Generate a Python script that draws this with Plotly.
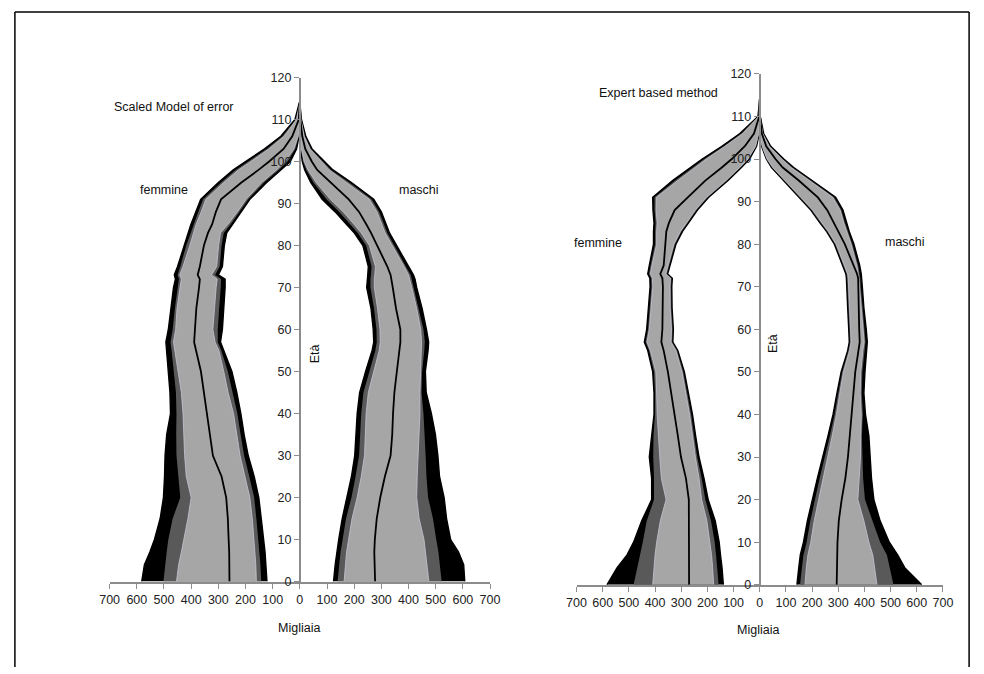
import plotly.graph_objects as go

# Age grid (years) shared by every quantile curve
AGE = [0, 4, 7, 10, 15, 20, 25, 30, 35, 40, 45, 50, 55, 57, 60, 65, 70, 72, 73, 75,
       80, 83, 85, 88, 91, 95, 98, 100, 103, 106, 110, 114]

# --- Scaled Model of error: femmine (thousands) ---
SME_F_HI3 = [582, 572, 552, 535, 514, 502, 498, 496, 490, 476, 478, 484, 490, 493, 484, 475, 465, 458, 462, 450,
             427, 411, 401, 383, 365, 300, 245, 200, 130, 70, 18, 2]
SME_F_HI2 = [502, 496, 490, 484, 468, 440, 448, 454, 455, 454, 456, 463, 472, 476, 468, 460, 450, 445, 450, 440,
             418, 402, 392, 374, 356, 290, 236, 190, 122, 64, 15, 1]
SME_F_HI1 = [454, 446, 436, 427, 412, 400, 418, 424, 427, 430, 436, 448, 460, 465, 457, 452, 441, 436, 442, 430,
             405, 392, 382, 363, 346, 280, 226, 180, 114, 58, 12, 0]
SME_F_MED = [259, 259, 260, 262, 265, 271, 288, 320, 331, 340, 352, 364, 382, 389, 386, 381, 371, 368, 376, 368,
             353, 338, 323, 309, 290, 215, 152, 113, 60, 28, 4, 0]
SME_F_LO1 = [160, 162, 165, 168, 175, 184, 202, 220, 232, 244, 264, 280, 298, 312, 320, 314, 308, 304, 325, 306,
             299, 292, 265, 230, 198, 140, 86, 54, 22, 6, 0, 0]
SME_F_LO2 = [142, 145, 148, 152, 160, 168, 186, 205, 218, 230, 248, 265, 289, 302, 302, 297, 291, 290, 312, 295,
             288, 280, 255, 222, 190, 132, 78, 45, 17, 4, 0, 0]
SME_F_LO3 = [121, 125, 128, 132, 142, 151, 168, 190, 205, 217, 232, 250, 280, 292, 285, 281, 275, 275, 300, 285,
             278, 269, 246, 216, 184, 122, 70, 35, 12, 3, 0, 0]

# --- Scaled Model of error: maschi ---
SME_M_HI3 = [607, 603, 584, 555, 540, 531, 514, 508, 499, 484, 465, 462, 472, 474, 466, 450, 430, 424, 418, 400,
             356, 330, 318, 300, 272, 190, 122, 92, 45, 22, 6, 0]
SME_M_HI2 = [522, 516, 510, 502, 490, 472, 466, 463, 460, 455, 448, 450, 458, 460, 455, 438, 420, 413, 408, 390,
             348, 322, 310, 292, 264, 182, 115, 86, 41, 19, 5, 0]
SME_M_HI1 = [475, 468, 463, 457, 439, 430, 432, 436, 440, 442, 442, 444, 448, 448, 445, 430, 412, 405, 400, 384,
             340, 314, 302, 284, 256, 174, 108, 80, 37, 16, 4, 0]
SME_M_MED = [277, 274, 274, 276, 283, 296, 313, 334, 340, 343, 348, 357, 367, 370, 370, 354, 342, 338, 334, 322,
             286, 262, 245, 218, 180, 112, 64, 44, 20, 9, 2, 0]
SME_M_LO1 = [163, 168, 172, 178, 192, 211, 226, 238, 240, 244, 252, 271, 292, 296, 295, 286, 274, 274, 276, 278,
             256, 226, 200, 160, 112, 60, 30, 16, 6, 2, 0, 0]
SME_M_LO2 = [139, 145, 150, 157, 170, 190, 205, 218, 222, 226, 234, 255, 278, 283, 282, 273, 260, 260, 262, 264,
             244, 213, 186, 145, 98, 50, 24, 12, 4, 1, 0, 0]
SME_M_LO3 = [124, 130, 136, 143, 156, 174, 190, 202, 207, 211, 220, 242, 266, 272, 270, 262, 246, 248, 250, 252,
             232, 200, 172, 130, 82, 40, 18, 9, 3, 0, 0, 0]

# --- Expert based method: femmine ---
EXP_F_HI3 = [584, 545, 507, 482, 451, 413, 413, 422, 413, 404, 404, 409, 428, 441, 432, 426, 419, 420, 428, 422,
             406, 406, 404, 408, 409, 332, 263, 220, 145, 76, 7, 0]
EXP_F_HI2 = [482, 468, 455, 447, 432, 404, 404, 407, 406, 400, 400, 404, 423, 436, 427, 421, 414, 415, 423, 417,
             400, 400, 398, 402, 402, 322, 254, 212, 138, 70, 5, 0]
EXP_F_HI1 = [409, 405, 400, 394, 380, 358, 376, 382, 388, 392, 394, 397, 418, 431, 422, 416, 409, 410, 418, 412,
             394, 394, 392, 396, 395, 312, 246, 204, 132, 65, 4, 0]
EXP_F_MED = [270, 270, 270, 270, 270, 271, 282, 301, 313, 326, 338, 351, 367, 376, 372, 370, 370, 372, 380, 367,
             361, 357, 347, 325, 275, 207, 145, 107, 57, 22, 2, 0]
EXP_F_LO1 = [176, 180, 184, 190, 202, 222, 232, 246, 257, 268, 282, 297, 320, 339, 337, 342, 343, 341, 359, 349,
             328, 303, 280, 246, 203, 128, 77, 45, 16, 4, 0, 0]
EXP_F_LO2 = [157, 162, 167, 172, 186, 208, 222, 239, 251, 262, 277, 292, 316, 335, 333, 338, 339, 337, 355, 345,
             324, 299, 276, 242, 199, 124, 73, 42, 14, 3, 0, 0]
EXP_F_LO3 = [139, 144, 150, 155, 170, 197, 213, 232, 245, 257, 272, 288, 313, 332, 330, 335, 336, 334, 352, 342,
             320, 295, 272, 238, 195, 120, 70, 39, 12, 2, 0, 0]

# --- Expert based method: maschi ---
EXP_M_HI3 = [619, 554, 527, 495, 460, 436, 427, 423, 417, 404, 398, 402, 407, 411, 407, 398, 392, 390, 388, 382,
             360, 342, 332, 318, 290, 200, 130, 92, 42, 15, 2, 0]
EXP_M_HI2 = [511, 498, 486, 460, 430, 402, 395, 392, 390, 394, 390, 392, 400, 404, 400, 392, 386, 384, 382, 376,
             354, 336, 326, 312, 284, 194, 125, 88, 39, 13, 1, 0]
EXP_M_HI1 = [448, 440, 432, 417, 398, 375, 380, 385, 386, 388, 384, 386, 394, 399, 395, 387, 381, 379, 377, 371,
             349, 331, 321, 307, 279, 188, 120, 84, 36, 11, 1, 0]
EXP_M_MED = [294, 295, 296, 297, 302, 313, 327, 337, 344, 352, 358, 365, 376, 382, 380, 378, 375, 376, 372, 358,
             325, 300, 282, 258, 222, 148, 88, 60, 25, 8, 1, 0]
EXP_M_LO1 = [173, 178, 184, 195, 208, 225, 242, 259, 277, 293, 306, 320, 343, 349, 347, 343, 340, 338, 336, 325,
             292, 262, 237, 202, 157, 97, 50, 28, 9, 1, 0, 0]
EXP_M_LO2 = [154, 161, 167, 179, 193, 211, 229, 248, 268, 286, 300, 315, 339, 345, 343, 339, 336, 334, 332, 321,
             288, 258, 233, 198, 153, 93, 47, 26, 8, 0, 0, 0]
EXP_M_LO3 = [142, 149, 155, 167, 182, 201, 220, 240, 261, 280, 295, 311, 336, 342, 340, 336, 333, 331, 329, 318,
             285, 255, 230, 195, 150, 90, 45, 25, 7, 0, 0, 0]

X_TICKS = [-700, -600, -500, -400, -300, -200, -100, 0, 100, 200, 300, 400, 500, 600, 700]
Y_TICKS = [0, 10, 20, 30, 40, 50, 60, 70, 80, 90, 100, 110, 120]

BLACK = "#000000"
DARK = "#595959"
LIGHT = "#a6a6a6"
AXIS_GREY = "#8c8c8c"
FONT = "Liberation Sans, Arial, sans-serif"

W, H = 984, 674

fig = go.Figure()


def band(lo, hi, sign, color, xa, ya, line_color=None, line_width=0):
    xs = [sign * v for v in hi] + [sign * v for v in lo[::-1]]
    ys = AGE + AGE[::-1]
    fig.add_trace(go.Scatter(
        x=xs, y=ys, mode="lines", fill="toself", fillcolor=color,
        line=dict(color=line_color or color, width=line_width),
        xaxis=xa, yaxis=ya, hoverinfo="skip", showlegend=False))


def fan(sign, lo3, lo2, lo1, med, hi1, hi2, hi3, xa, ya):
    band(lo3, hi3, sign, BLACK, xa, ya, BLACK, 1.4)
    band(lo2, hi2, sign, DARK, xa, ya)
    band(lo1, hi1, sign, LIGHT, xa, ya, "#c4c8d2", 0.8)
    fig.add_trace(go.Scatter(
        x=[sign * v for v in med], y=AGE, mode="lines",
        line=dict(color=BLACK, width=1.8),
        xaxis=xa, yaxis=ya, hoverinfo="skip", showlegend=False))


fan(-1, SME_F_LO3, SME_F_LO2, SME_F_LO1, SME_F_MED, SME_F_HI1, SME_F_HI2, SME_F_HI3, "x", "y")
fan(1, SME_M_LO3, SME_M_LO2, SME_M_LO1, SME_M_MED, SME_M_HI1, SME_M_HI2, SME_M_HI3, "x", "y")
fan(-1, EXP_F_LO3, EXP_F_LO2, EXP_F_LO1, EXP_F_MED, EXP_F_HI1, EXP_F_HI2, EXP_F_HI3, "x2", "y2")
fan(1, EXP_M_LO3, EXP_M_LO2, EXP_M_LO1, EXP_M_MED, EXP_M_HI1, EXP_M_HI2, EXP_M_HI3, "x2", "y2")

tick_font = dict(family=FONT, size=12.5, color="#222222")


def xaxis_cfg(x0, x1, anchor):
    return dict(domain=[x0 / W, x1 / W], range=[-700, 700], anchor=anchor,
                tickvals=X_TICKS, ticktext=[str(abs(v)) for v in X_TICKS],
                showline=True, linecolor=AXIS_GREY, linewidth=2,
                ticks="outside", ticklen=5, tickcolor=AXIS_GREY, tickwidth=1,
                showgrid=False, zeroline=False, tickfont=tick_font, fixedrange=True)


def yaxis_cfg(y_bottom, y_top, pos):
    return dict(domain=[1 - y_bottom / H, 1 - y_top / H], range=[0, 120], anchor="free",
                position=pos / W, tickvals=Y_TICKS,
                showline=True, linecolor=AXIS_GREY, linewidth=2,
                ticks="outside", ticklen=5, tickcolor=AXIS_GREY, tickwidth=1,
                showgrid=False, zeroline=False, tickfont=tick_font, fixedrange=True)


fig.update_layout(
    width=W, height=H, margin=dict(l=0, r=0, t=0, b=0),
    paper_bgcolor="white", plot_bgcolor="rgba(0,0,0,0)",
    showlegend=False,
    xaxis=xaxis_cfg(101.7, 490, "y"),
    yaxis=yaxis_cfg(586.7, 72, 296),
    xaxis2=xaxis_cfg(578.3, 952.3, "y2"),
    yaxis2=yaxis_cfg(590, 68.3, 765.3),
)


def label(text, x, y, angle=0):
    fig.add_annotation(text=text, x=x / W, y=1 - y / H, xref="paper", yref="paper",
                       showarrow=False, textangle=angle, xanchor="center", yanchor="middle",
                       font=dict(family=FONT, size=12.5, color="#111111"))


label("Scaled Model of error", 167, 102)
label("femmine", 157, 187)
label("maschi", 417, 187)
label("Età", 311, 354, -90)
label("Migliaia", 295, 634)

label("Expert based method", 662, 88)
label("femmine", 600, 241)
label("maschi", 914, 240)
label("Età", 779, 344, -90)
label("Migliaia", 764, 636)

# outer frame (open at the bottom)
for x0, y0, x1, y1 in [(5, 5, 979, 5), (5, 5, 5, 674), (979, 5, 979, 674)]:
    fig.add_shape(type="line", xref="paper", yref="paper",
                  x0=x0 / W, y0=1 - y0 / H, x1=x1 / W, y1=1 - y1 / H,
                  line=dict(color="black", width=1.5))

fig.write_html("out.html", config={"displayModeBar": False})
